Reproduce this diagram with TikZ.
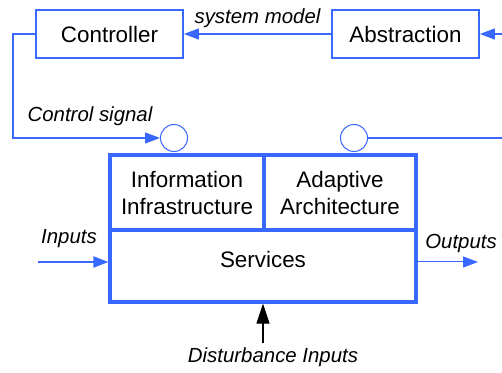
\documentclass[tikz,border=0pt]{standalone}
\usepackage{fontspec}
\setmainfont{Liberation Sans}
\usetikzlibrary{arrows.meta}
\definecolor{bl}{RGB}{56,104,255}
\tikzset{
  x=0.5pt,y=-0.5pt,
  box/.style={draw=bl,line width=0.9pt,fill=white,inner sep=0pt,font=\fontsize{11.2}{13.5}\selectfont,align=center},
  bigbox/.style={draw=bl,line width=1.6pt,inner sep=0pt,font=\fontsize{11.2}{13.5}\selectfont,align=center},
  lbl/.style={font=\fontsize{10.2}{12}\selectfont\itshape,inner sep=0pt},
  port/.style={draw=bl,line width=0.5pt,circle,minimum size=13.5pt,inner sep=0pt},
  wire/.style={draw=bl,line width=0.6pt},
  tip/.style={-{Triangle[length=7.5pt,width=5.5pt]}},
}
\begin{document}
\begin{tikzpicture}
\useasboundingbox (0,0) rectangle (502,373);
% top boxes
\node[box,minimum width=73.5pt,minimum height=24pt] (ctrl) at (109.5,34) {Controller};
\node[box,minimum width=73.5pt,minimum height=24pt] (abs) at (405.5,34) {Abstraction};
\draw[wire,tip,bl] (abs.west) -- (ctrl.east) node[lbl,black,midway,above=3pt] {system model};
\coordinate (inA) at (502,34);
\draw[wire,tip,bl] (inA) -- (abs.east);
% ports
\node[port] (p1) at (174,138) {};
\node[port] (p2) at (354,138) {};
\coordinate (c1) at (13,34);
\coordinate (c2) at (13,138);
\draw[wire,tip,bl] (ctrl.west) -- (c1) -- (c2) -- (p1.west);
\node[lbl] (cs) at (90,116) {Control signal};
\coordinate (outR) at (502,138);
\draw[wire] (p2.east) -- (outR);
% main block
\node[bigbox,minimum width=77pt,minimum height=37.5pt] (info) at (187,192.5) {Information\\Infrastructure};
\node[bigbox,minimum width=76pt,minimum height=37.5pt] (adapt) at (340,192.5) {Adaptive\\Architecture};
\node[bigbox,minimum width=153pt,minimum height=36pt,label={[font=\fontsize{11.2}{13.5}\selectfont,yshift=3.5pt]center:Services}] (svc) at (263,266) {};
% inputs / outputs
\coordinate (inS) at (38,262);
\coordinate (outS) at (478,262);
\draw[wire,line width=1.1pt,tip,bl] (inS) -- (inS -| svc.west);
\node[lbl] (inl) at (69,239) {Inputs};
\draw[wire,line width=0.5pt,tip,bl] (outS -| svc.east) -- (outS);
\node[lbl] (outl) at (461,243) {Outputs};
\coordinate (dist) at (263,343);
\draw[line width=0.6pt,-{Triangle[length=10pt,width=6.5pt]}] (dist) -- (svc.south);
\node[lbl] (dl) at (273,357) {Disturbance Inputs};
\end{tikzpicture}
\end{document}
